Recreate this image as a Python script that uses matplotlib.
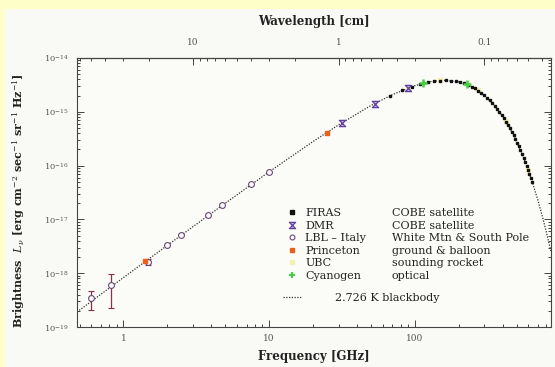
import matplotlib.pyplot as plt
import matplotlib.ticker as mticker
from matplotlib.patches import Rectangle
from matplotlib.path import Path
from matplotlib.lines import Line2D
import numpy as np

plt.rcParams['font.family'] = ['DejaVu Serif']
plt.rcParams['mathtext.fontset'] = 'dejavuserif'

# 2.726 K blackbody curve (GHz, erg cm^-2 s^-1 sr^-1 Hz^-1)
bb_freq = [0.48, 1, 2, 5, 10, 20, 30, 50, 70, 100, 130, 160, 200, 250, 300, 350,
           400, 450, 500, 550, 600, 650, 700, 750, 800, 860]
bb_val = [1.90e-19, 8.30e-19, 3.29e-18, 2.00e-17, 7.66e-17, 2.80e-16, 5.72e-16,
          1.31e-15, 2.08e-15, 3.06e-15, 3.65e-15, 3.84e-15, 3.59e-15, 2.86e-15,
          2.03e-15, 1.33e-15, 8.25e-16, 4.86e-16, 2.77e-16, 1.53e-16, 8.22e-17,
          4.33e-17, 2.24e-17, 1.14e-17, 5.75e-18, 2.5e-18]

# FIRAS (wavenumber cm^-1, MJy/sr)
firas_wn = [2.27, 2.72, 3.18, 3.63, 4.08, 4.54, 4.99, 5.45, 5.90, 6.35, 6.81, 7.26,
            7.71, 8.17, 8.62, 9.08, 9.53, 9.98, 10.44, 10.89, 11.34, 11.80, 12.25,
            12.71, 13.16, 13.61, 14.07, 14.52, 14.97, 15.43, 15.88, 16.34, 16.79,
            17.24, 17.70, 18.15, 18.61, 19.06, 19.51, 19.97, 20.42, 20.87, 21.33]
firas_mjy = [200.7, 249.5, 293.0, 327.8, 354.1, 372.1, 381.5, 383.5, 378.9, 368.8,
             354.1, 336.3, 316.1, 293.9, 271.4, 248.2, 225.9, 204.3, 183.3, 163.8,
             145.8, 128.8, 113.6, 99.5, 86.7, 75.2, 65.3, 57.1, 49.3, 42.4, 36.4,
             31.1, 26.6, 22.7, 19.3, 16.4, 13.9, 11.7, 9.9, 8.4, 7.0, 5.9, 5.0]

# COBE DMR
dmr_freq = [31.5, 53.0, 90.0]
dmr_val = [6.2e-16, 1.42e-15, 2.77e-15]

# LBL - Italy
lbl_freq = [0.6, 0.82, 1.47, 2.0, 2.5, 3.8, 4.75, 7.5, 10.0]
lbl_val = [3.5e-19, 6.0e-19, 1.6e-18, 3.3e-18, 5.2e-18, 1.2e-17, 1.85e-17, 4.5e-17, 7.7e-17]
lbl_lo = [2.1e-19, 2.3e-19, 1.4e-18, 3.3e-18, 5.2e-18, 1.2e-17, 1.85e-17, 4.5e-17, 7.7e-17]
lbl_hi = [4.7e-19, 9.5e-19, 1.8e-18, 3.3e-18, 5.2e-18, 1.2e-17, 1.85e-17, 4.5e-17, 7.7e-17]

# Princeton
pr_freq = [1.41, 24.8]
pr_val = [1.65e-18, 4.1e-16]

# UBC
ubc_freq = [90, 150, 270, 420, 600]
ubc_val = [2.77e-15, 3.82e-15, 2.52e-15, 6.7e-16, 8.2e-17]

# Cyanogen
cn_freq = [113.6, 227.3]
cn_val = [3.38e-15, 3.22e-15]

c_cm = 29.979  # GHz * cm


def f2w(f):
    with np.errstate(divide='ignore'):
        return c_cm / np.asarray(f, dtype=float)


fig = plt.figure(figsize=(5.55, 3.67), dpi=100, facecolor='#fefec9')
fig.add_artist(Rectangle((5 / 555, 0), 1, 358 / 367, transform=fig.transFigure,
                         facecolor='#f9f9f5', edgecolor='none', zorder=-10))
ax = fig.add_axes([77 / 555, 40 / 367, 474 / 555, 269 / 367])
ax.set_facecolor('#fbfbf8')

hourglass = Path([(-1, 1), (1, 1), (-1, -1), (1, -1), (-1, 1)],
                 [Path.MOVETO, Path.LINETO, Path.LINETO, Path.LINETO, Path.CLOSEPOLY])

ax.plot(bb_freq, bb_val, color='#333333', lw=0.9, ls=(0, (1, 1.2)), zorder=2)
ax.plot(ubc_freq, ubc_val, ls='none', marker='s', ms=2.5, color='#f4f0b0', zorder=3)
ax.plot(np.array(firas_wn) * c_cm, np.array(firas_mjy) * 1e-17, ls='none', marker='s',
        ms=1.6, color='#111111', zorder=4)
lbl_v = np.array(lbl_val)
ax.errorbar(lbl_freq, lbl_val, yerr=[lbl_v - np.array(lbl_lo), np.array(lbl_hi) - lbl_v],
            ls='none', marker='o', ms=4.2, mfc='#fbfbf8', mec='#6a4a7a', mew=0.8,
            ecolor='#8a3050', elinewidth=0.9, capsize=2.5, zorder=5)
ax.plot(pr_freq, pr_val, ls='none', marker='s', ms=3, color='#e8601c', zorder=6)
ax.plot(dmr_freq, dmr_val, ls='none', marker=hourglass, ms=4.5, mfc='#c0b0e0',
        mec='#6040a0', mew=0.9, zorder=6)
ax.plot(cn_freq, cn_val, ls='none', marker='+', ms=6, mew=1.8, color='#44d044', zorder=6)

ax.set_xscale('log')
ax.set_yscale('log')
ax.set_xlim(0.48, 860)
ax.set_ylim(1e-19, 1e-14)

ax.set_xticks([1, 10, 100])
ax.xaxis.set_major_formatter(mticker.FuncFormatter(lambda v, p: f'{v:g}'))
ax.xaxis.set_minor_locator(mticker.LogLocator(subs=range(2, 10), numticks=20))
ax.xaxis.set_minor_formatter(mticker.NullFormatter())
ax.yaxis.set_minor_locator(mticker.LogLocator(subs=range(2, 10), numticks=20))
ax.yaxis.set_minor_formatter(mticker.NullFormatter())
ax.tick_params(which='both', direction='in', right=True, top=False, color='#444444',
               labelcolor='#555555', labelsize=6.5, width=0.7)
ax.tick_params(which='major', length=5, pad=5)
ax.tick_params(which='minor', length=2.5)
ax.tick_params(axis='y', labelsize=6.0, pad=6)
for s in ax.spines.values():
    s.set_color('#444444')
    s.set_linewidth(0.8)

sec = ax.secondary_xaxis('top', functions=(f2w, f2w))
sec.set_xticks([10, 1, 0.1])
sec.xaxis.set_major_formatter(mticker.FuncFormatter(lambda v, p: f'{v:g}'))
sec.xaxis.set_minor_locator(mticker.LogLocator(subs=range(2, 10), numticks=20))
sec.xaxis.set_minor_formatter(mticker.NullFormatter())
sec.tick_params(which='both', direction='in', color='#444444', labelcolor='#555555',
                labelsize=6.5, width=0.7)
sec.tick_params(which='major', length=5, pad=8)
sec.tick_params(which='minor', length=2.5)
sec.set_xlabel('Wavelength [cm]', fontsize=8.5, fontweight='bold', color='#222222', labelpad=9)

ax.set_xlabel('Frequency [GHz]', fontsize=8.5, fontweight='bold', color='#222222', labelpad=5)
ax.set_ylabel(r'Brightness  $L_\nu$ [erg cm$^{-2}$ sec$^{-1}$ sr$^{-1}$ Hz$^{-1}$]',
              fontsize=8.0, fontweight='bold', color='#222222')
ax.yaxis.set_label_coords(-0.106, 0.47)

# legend: markers + names, then descriptions, then the blackbody line
names = ['FIRAS', 'DMR', 'LBL – Italy', 'Princeton', 'UBC', 'Cyanogen']
descs = ['COBE satellite', 'COBE satellite', 'White Mtn & South Pole',
         'ground & balloon', 'sounding rocket', 'optical']
handles = [
    Line2D([], [], ls='none', marker='s', ms=2.2, color='#111111'),
    Line2D([], [], ls='none', marker=hourglass, ms=4.5, mfc='#c0b0e0', mec='#6040a0', mew=0.9),
    Line2D([], [], ls='none', marker='o', ms=3.5, mfc='none', mec='#6a4a7a', mew=0.8),
    Line2D([], [], ls='none', marker='s', ms=3, color='#e8601c'),
    Line2D([], [], ls='none', marker='s', ms=3, color='#f4f0b0'),
    Line2D([], [], ls='none', marker='+', ms=4.5, mew=1.5, color='#44d044'),
]
leg_kw = dict(frameon=False, fontsize=8.0, borderpad=0, borderaxespad=0,
              labelspacing=0.23, loc='upper left')
leg1 = ax.legend(handles, names, bbox_to_anchor=((287 - 77) / 474, (327 - 208) / 269),
                 handlelength=0.9, handletextpad=0.75, **leg_kw)
for t in leg1.get_texts():
    t.set_color('#222222')
ax.add_artist(leg1)
blank = [Line2D([], [], ls='none') for _ in descs]
leg2 = ax.legend(blank, descs, bbox_to_anchor=((392 - 77) / 474, (327 - 208) / 269),
                 handlelength=0, handletextpad=0, **leg_kw)
for t in leg2.get_texts():
    t.set_color('#222222')
ax.add_artist(leg2)
bb_handle = Line2D([], [], color='#333333', lw=0.9, ls=(0, (1, 1.2)))
leg3 = ax.legend([bb_handle], ['2.726 K blackbody'],
                 bbox_to_anchor=((283 - 77) / 474, (327 - 293) / 269),
                 handlelength=1.6, handletextpad=3.1, **leg_kw)
for t in leg3.get_texts():
    t.set_color('#222222')

fig.savefig('out.png', dpi=100, facecolor=fig.get_facecolor())
